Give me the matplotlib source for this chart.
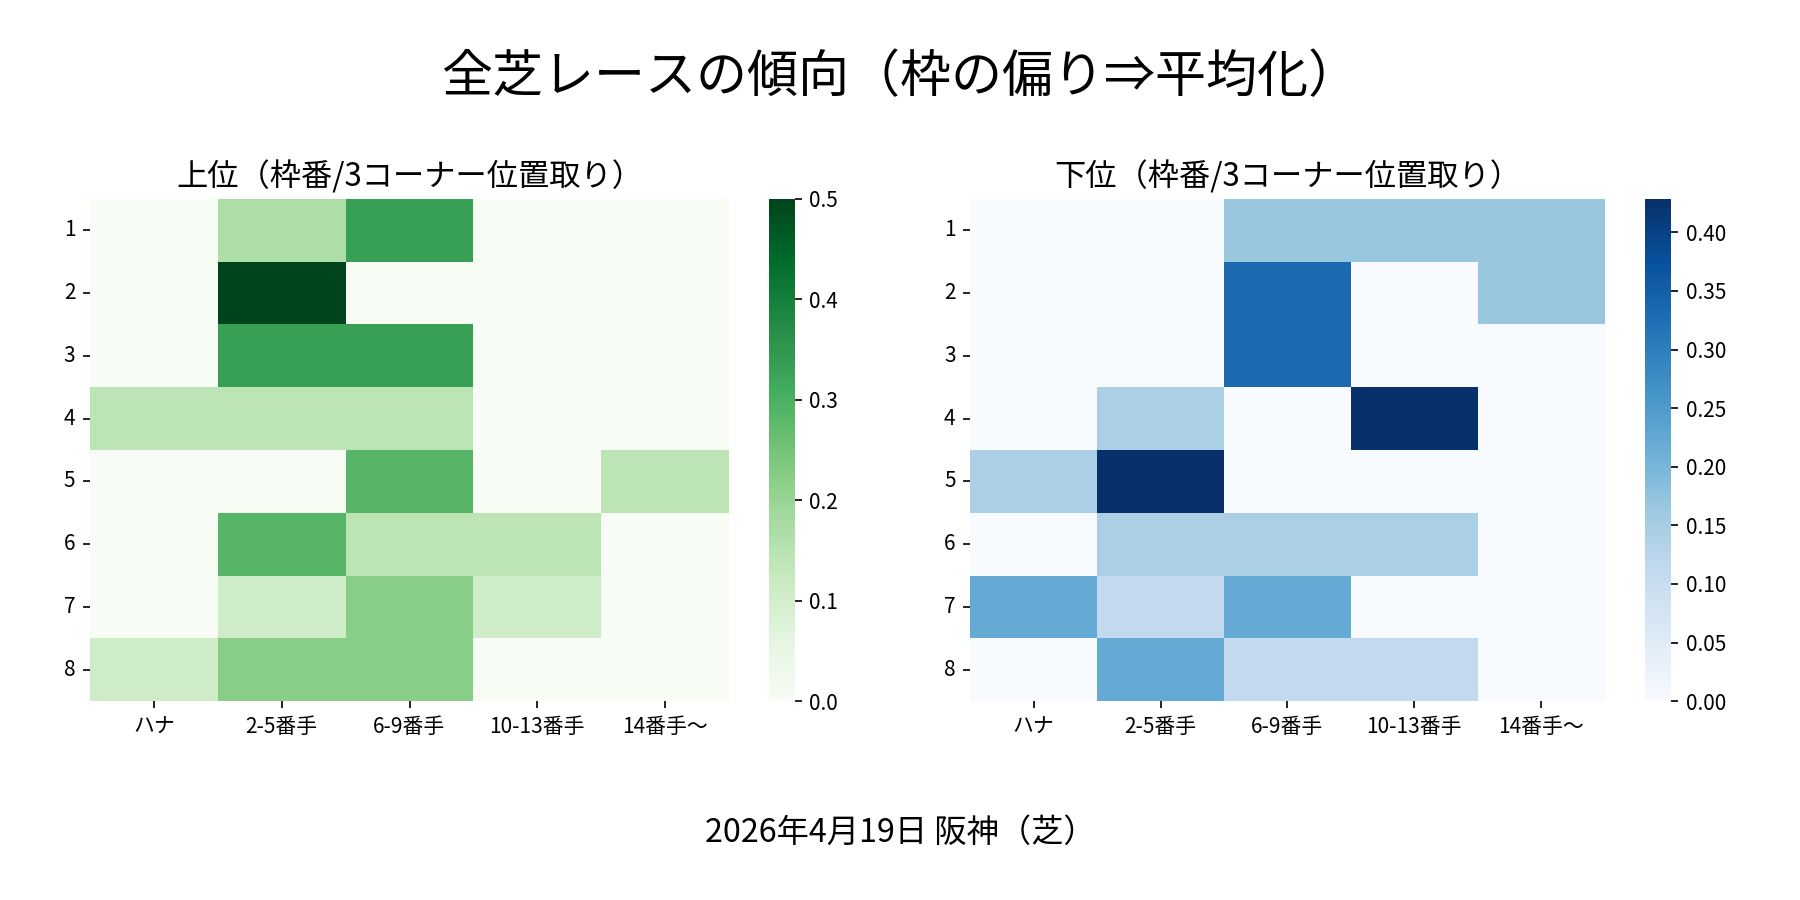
import matplotlib
matplotlib.use("Agg")
import matplotlib.pyplot as plt
import seaborn as sns
import numpy as np

plt.rcParams['font.family'] = ['Noto Sans CJK JP', 'DejaVu Sans']

# 枠番 x 3コーナー位置取り
frames = ['1', '2', '3', '4', '5', '6', '7', '8']
positions = ['ハナ', '2-5番手', '6-9番手', '10-13番手', '14番手～']

# 上位 (share of each frame)
top = np.array([
    [0, 1/6, 1/3, 0, 0],
    [0, 1/2, 0, 0, 0],
    [0, 1/3, 1/3, 0, 0],
    [1/7, 1/7, 1/7, 0, 0],
    [0, 0, 2/7, 0, 1/7],
    [0, 2/7, 1/7, 1/7, 0],
    [0, 1/9, 2/9, 1/9, 0],
    [1/9, 2/9, 2/9, 0, 0],
])

# 下位
bottom = np.array([
    [0, 0, 1/6, 1/6, 1/6],
    [0, 0, 1/3, 0, 1/6],
    [0, 0, 1/3, 0, 0],
    [0, 1/7, 0, 3/7, 0],
    [1/7, 3/7, 0, 0, 0],
    [0, 1/7, 1/7, 1/7, 0],
    [2/9, 1/9, 2/9, 0, 0],
    [0, 2/9, 1/9, 1/9, 0],
])

fig = plt.figure(figsize=(12, 6), dpi=150)
ax1 = fig.add_axes([0.050, 0.221, 0.355, 0.558])
cax1 = fig.add_axes([0.427, 0.221, 0.0145, 0.558])
ax2 = fig.add_axes([0.539, 0.221, 0.3525, 0.558])
cax2 = fig.add_axes([0.914, 0.221, 0.0145, 0.558])

sns.heatmap(top, ax=ax1, cbar_ax=cax1, cmap='Greens',
            xticklabels=positions, yticklabels=frames)
ax1.set_title('上位（枠番/3コーナー位置取り）', fontsize=15)

sns.heatmap(bottom, ax=ax2, cbar_ax=cax2, cmap='Blues',
            xticklabels=positions, yticklabels=frames)
ax2.set_title('下位（枠番/3コーナー位置取り）', fontsize=15)

for ax in (ax1, ax2):
    ax.tick_params(axis='y', rotation=0)
    ax.tick_params(axis='x', rotation=0)

fig.suptitle('全芝レースの傾向（枠の偏り⇒平均化）', fontsize=24.5, y=0.944)
fig.text(0.5, 0.075, '2026年4月19日 阪神（芝）', ha='center', va='center', fontsize=15.5)

fig.savefig('out.png')
